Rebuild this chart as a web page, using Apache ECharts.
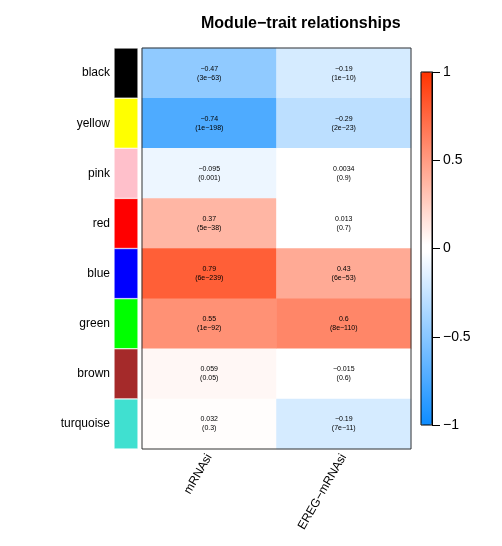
<!DOCTYPE html>
<html>
<head>
<meta charset="utf-8">
<script src="https://cdn.jsdelivr.net/npm/echarts@6/dist/echarts.min.js"></script>
<style>
  html, body { margin: 0; padding: 0; background: #fff; }
  #chart { width: 502px; height: 546px; }
</style>
</head>
<body>
<div id="chart"></div>
<script>
// module rows, top to bottom
var modules = ["black", "yellow", "pink", "red", "blue", "green", "brown", "turquoise"];
var moduleColors = ["#000000", "#ffff00", "#ffc0cb", "#ff0000", "#0000ff", "#00ff00", "#a52a2a", "#40e0d0"];
var traits = ["mRNAsi", "EREG\u2212mRNAsi"];

// correlations and p-values per trait
var corMRNAsi = [-0.47, -0.74, -0.095, 0.37, 0.79, 0.55, 0.059, 0.032];
var pMRNAsi = ["3e\u221263", "1e\u2212198", "0.001", "5e\u221238", "6e\u2212239", "1e\u221292", "0.05", "0.3"];
var corEREG = [-0.19, -0.29, 0.0034, 0.013, 0.43, 0.6, -0.015, -0.19];
var pEREG = ["1e\u221210", "2e\u221223", "0.9", "0.7", "6e\u221253", "8e\u2212110", "0.6", "7e\u221211"];

var colorbarTicks = [-1, -0.5, 0, 0.5, 1];

var cors = [corMRNAsi, corEREG];
var pvals = [pMRNAsi, pEREG];

function fmt(v) {
  return String(v).replace("-", "\u2212");
}

// blue-white-red palette, 25 steps each side
function palette() {
  var blue = [13, 140, 255], red = [255, 51, 0], out = [];
  function mix(c, f) {
    return "rgb(" + c.map(function (x) { return Math.round(255 + (x - 255) * f); }).join(",") + ")";
  }
  for (var i = 0; i < 25; i++) out.push(mix(blue, 1 - i / 24));
  for (var j = 0; j < 25; j++) out.push(mix(red, j / 24));
  return out;
}

var heatData = [];
for (var t = 0; t < traits.length; t++) {
  for (var m = 0; m < modules.length; m++) {
    heatData.push([t, m, cors[t][m]]);
  }
}

var chart = echarts.init(document.getElementById("chart"));

var font = "'Liberation Sans', Arial, sans-serif";

chart.setOption({
  animation: false,
  textStyle: { fontFamily: font },
  title: {
    text: "Module\u2212trait relationships",
    left: 196,
    top: 11,
    textStyle: { fontSize: 16, fontWeight: "bold", color: "#000", fontFamily: font }
  },
  grid: [
    { left: 142, right: 91, top: 48, bottom: 97, show: true, borderColor: "#333", borderWidth: 1, backgroundColor: "transparent", z: 3 },
    { left: 114, width: 24, top: 48, bottom: 97 },
    { left: 421, width: 11, top: 72, height: 353, show: true, borderColor: "#000", borderWidth: 1, backgroundColor: "transparent", z: 5 }
  ],
  xAxis: [
    {
      type: "category",
      gridIndex: 0,
      data: traits,
      axisLine: { show: false },
      axisTick: { show: false },
      axisLabel: { rotate: 60, fontSize: 12, color: "#000", margin: 6, interval: 0 },
      splitLine: { show: false }
    },
    { type: "value", gridIndex: 1, min: 0, max: 1, show: false },
    { type: "value", gridIndex: 2, min: 0, max: 1, show: false }
  ],
  yAxis: [
    {
      type: "category",
      gridIndex: 0,
      data: modules,
      inverse: true,
      axisLine: { show: false },
      axisTick: { show: false },
      axisLabel: { show: false },
      splitLine: { show: false }
    },
    {
      type: "category",
      gridIndex: 1,
      data: modules,
      inverse: true,
      axisLine: { show: false },
      axisTick: { show: false },
      axisLabel: { fontSize: 12, color: "#000", margin: 4 }
    },
    {
      type: "value",
      gridIndex: 2,
      position: "right",
      min: -1,
      max: 1,
      interval: 0.5,
      z: 6,
      axisLine: { show: true, onZero: false, lineStyle: { color: "#000", width: 1 } },
      axisTick: { show: true, inside: false, length: 8, lineStyle: { color: "#000", width: 1 } },
      axisLabel: {
        show: true,
        fontSize: 14,
        color: "#000",
        margin: 11,
        formatter: function (v) {
          return colorbarTicks.indexOf(v) >= 0 ? fmt(v) : "";
        }
      },
      splitLine: { show: false }
    }
  ],
  visualMap: {
    type: "continuous",
    seriesIndex: 0,
    min: -1,
    max: 1,
    calculable: false,
    left: 421,
    top: 72,
    padding: 0,
    itemWidth: 11,
    itemHeight: 353,
    text: null,
    showLabel: false,
    inRange: { color: palette() }
  },
  series: [
    {
      type: "heatmap",
      xAxisIndex: 0,
      yAxisIndex: 0,
      data: heatData,
      label: {
        show: true,
        fontSize: 7,
        lineHeight: 9,
        color: "#000",
        fontFamily: font,
        formatter: function (p) {
          var t = p.data[0], m = p.data[1];
          return fmt(cors[t][m]) + "\n(" + pvals[t][m] + ")";
        }
      },
      itemStyle: { borderWidth: 0 },
      emphasis: { disabled: true }
    },
    {
      type: "bar",
      xAxisIndex: 1,
      yAxisIndex: 1,
      barWidth: "100%",
      data: modules.map(function (m, i) {
        return { value: 1, itemStyle: { color: moduleColors[i] } };
      }),
      itemStyle: { borderColor: "#fff", borderWidth: 0.5 },
      silent: true
    }
  ]
});
</script>
</body>
</html>
